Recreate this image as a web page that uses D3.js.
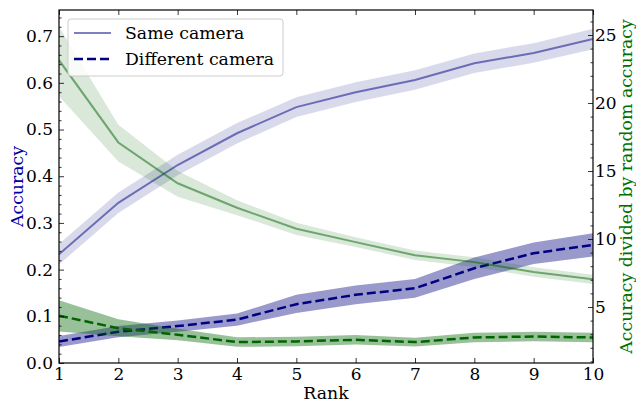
<!DOCTYPE html>
<html>
<head>
<meta charset="utf-8">
<script src="https://cdn.jsdelivr.net/npm/d3@7"></script>
<style>
  html, body { margin: 0; padding: 0; background: #fff; }
  svg { display: block; font-family: "DejaVu Serif", serif; }
</style>
</head>
<body>
<svg id="chart" width="636" height="401"></svg>
<script>
// Rank on the x axis
const ranks = [1, 2, 3, 4, 5, 6, 7, 8, 9, 10];

// Accuracy, same camera (mean and band)
const sameMean = [0.233, 0.343, 0.424, 0.492, 0.548, 0.580, 0.606, 0.642, 0.664, 0.694];
const sameLow  = [0.211, 0.321, 0.402, 0.470, 0.527, 0.559, 0.585, 0.621, 0.643, 0.672];
const sameHigh = [0.255, 0.365, 0.446, 0.514, 0.569, 0.601, 0.627, 0.663, 0.685, 0.716];

// Accuracy, different camera (mean and band)
const diffMean = [0.046, 0.067, 0.079, 0.093, 0.126, 0.146, 0.160, 0.203, 0.235, 0.253];
const diffLow  = [0.034, 0.055, 0.067, 0.080, 0.107, 0.126, 0.140, 0.180, 0.212, 0.228];
const diffHigh = [0.058, 0.079, 0.091, 0.106, 0.146, 0.166, 0.180, 0.226, 0.258, 0.278];

// Accuracy divided by random accuracy, same camera
const sameRatio     = [23.15, 17.1, 14.1, 12.3, 10.75, 9.77, 8.80, 8.30, 7.58, 7.04];
const sameRatioLow  = [20.5, 15.7, 13.1, 11.75, 10.3, 9.42, 8.45, 7.95, 7.23, 6.70];
const sameRatioHigh = [25.6, 18.4, 15.0, 12.85, 11.2, 10.12, 9.15, 8.65, 7.93, 7.38];

// Accuracy divided by random accuracy, different camera
const diffRatio     = [4.36, 3.44, 2.96, 2.42, 2.47, 2.59, 2.42, 2.76, 2.83, 2.76];
const diffRatioLow  = [3.20, 2.85, 2.55, 2.07, 2.12, 2.24, 2.10, 2.41, 2.48, 2.41];
const diffRatioHigh = [5.50, 4.10, 3.40, 2.77, 2.82, 2.94, 2.74, 3.11, 3.18, 3.11];

// Tick values
const xTicks = ranks;
const leftTicks = [0.0, 0.1, 0.2, 0.3, 0.4, 0.5, 0.6, 0.7];
const rightTicks = [5, 10, 15, 20, 25];

const legendLabels = ["Same camera", "Different camera"];

const svg = d3.select("#chart");
const plot = { left: 59, right: 593, top: 10, bottom: 363 };

const x = d3.scaleLinear().domain([1, 10]).range([plot.left, plot.right]);
const yL = d3.scaleLinear().domain([0, 0.756]).range([plot.bottom, plot.top]);
const yR = d3.scaleLinear().domain([0.882, 26.84]).range([plot.bottom, plot.top]);

const NAVY = "#000080";
const GREEN = "#006400";

function band(lo, hi, y) {
  return d3.area().x((d, i) => x(ranks[i])).y0((d, i) => y(lo[i])).y1((d, i) => y(hi[i]))(ranks);
}
function line(vals, y) {
  return d3.line().x((d, i) => x(ranks[i])).y((d, i) => y(vals[i]))(ranks);
}

const g = svg.append("g");
g.append("defs").append("clipPath").attr("id", "clip")
  .append("rect").attr("x", plot.left).attr("y", plot.top)
  .attr("width", plot.right - plot.left).attr("height", plot.bottom - plot.top);
const marks = g.append("g").attr("clip-path", "url(#clip)");

// Accuracy series (left axis)
marks.append("path").attr("d", band(sameLow, sameHigh, yL)).attr("fill", NAVY).attr("fill-opacity", 0.15);
marks.append("path").attr("d", line(sameMean, yL)).attr("fill", "none")
  .attr("stroke", NAVY).attr("stroke-opacity", 0.5).attr("stroke-width", 2);
marks.append("path").attr("d", band(diffLow, diffHigh, yL)).attr("fill", NAVY).attr("fill-opacity", 0.4);
marks.append("path").attr("d", line(diffMean, yL)).attr("fill", "none")
  .attr("stroke", NAVY).attr("stroke-width", 2.5).attr("stroke-dasharray", "9,4");

// Ratio series (right axis)
marks.append("path").attr("d", band(sameRatioLow, sameRatioHigh, yR)).attr("fill", GREEN).attr("fill-opacity", 0.15);
marks.append("path").attr("d", line(sameRatio, yR)).attr("fill", "none")
  .attr("stroke", GREEN).attr("stroke-opacity", 0.5).attr("stroke-width", 2);
marks.append("path").attr("d", band(diffRatioLow, diffRatioHigh, yR)).attr("fill", GREEN).attr("fill-opacity", 0.4);
marks.append("path").attr("d", line(diffRatio, yR)).attr("fill", "none")
  .attr("stroke", GREEN).attr("stroke-width", 2.5).attr("stroke-dasharray", "9,4");

// Axes with inward ticks
const tickFont = 17;
const labelFont = 17.3;
function styleAxis(sel) {
  sel.select(".domain").remove();
  sel.selectAll(".tick line").attr("stroke", "#000").attr("stroke-width", 0.8);
  sel.selectAll(".tick text").attr("font-size", tickFont).attr("fill", "#000")
    .attr("font-family", "DejaVu Serif, serif");
}

const axisBottomG = g.append("g").attr("transform", `translate(0,${plot.bottom})`)
  .call(d3.axisBottom(x).tickValues(xTicks).tickFormat(d3.format("d")).tickSizeInner(-5).tickSizeOuter(0).tickPadding(5));
styleAxis(axisBottomG);

const axisTopG = g.append("g").attr("transform", `translate(0,${plot.top})`)
  .call(d3.axisTop(x).tickValues(xTicks).tickFormat("").tickSizeInner(-5).tickSizeOuter(0));
styleAxis(axisTopG);

const axisLeftG = g.append("g").attr("transform", `translate(${plot.left},0)`)
  .call(d3.axisLeft(yL).tickValues(leftTicks).tickFormat(d3.format(".1f")).tickSizeInner(-5).tickSizeOuter(0).tickPadding(6));
styleAxis(axisLeftG);
const axisLeftMinorG = g.append("g").attr("transform", `translate(${plot.left},0)`)
  .call(d3.axisLeft(yL).tickValues(d3.range(0, 0.75, 0.02).filter(v => Math.abs(v * 10 - Math.round(v * 10)) > 1e-6))
    .tickFormat("").tickSizeInner(-2.5).tickSizeOuter(0));
styleAxis(axisLeftMinorG);

const axisRightG = g.append("g").attr("transform", `translate(${plot.right},0)`)
  .call(d3.axisRight(yR).tickValues(rightTicks).tickFormat(d3.format("d")).tickSizeInner(-5).tickSizeOuter(0).tickPadding(2));
styleAxis(axisRightG);
const axisRightMinorG = g.append("g").attr("transform", `translate(${plot.right},0)`)
  .call(d3.axisRight(yR).tickValues(d3.range(1, 27).filter(v => v % 5 !== 0))
    .tickFormat("").tickSizeInner(-2.5).tickSizeOuter(0));
styleAxis(axisRightMinorG);

// Frame
g.append("rect").attr("x", plot.left).attr("y", plot.top)
  .attr("width", plot.right - plot.left).attr("height", plot.bottom - plot.top)
  .attr("fill", "none").attr("stroke", "#000").attr("stroke-width", 1.2);

// Axis titles
g.append("text").attr("x", (plot.left + plot.right) / 2).attr("y", 398.5)
  .attr("text-anchor", "middle").attr("font-size", labelFont).text("Rank");
g.append("text").attr("transform", `translate(22.5,${(plot.top + plot.bottom) / 2}) rotate(-90)`)
  .attr("text-anchor", "middle").attr("font-size", labelFont).attr("fill", "#0000a8").text("Accuracy");
g.append("text").attr("transform", `translate(632,${(plot.top + plot.bottom) / 2}) rotate(-90)`)
  .attr("text-anchor", "middle").attr("font-size", labelFont).attr("fill", "#007000")
  .text("Accuracy divided by random accuracy");

// Legend
const lg = g.append("g").attr("transform", "translate(68,19)");
lg.append("rect").attr("width", 215).attr("height", 57).attr("rx", 3)
  .attr("fill", "#fff").attr("fill-opacity", 0.8).attr("stroke", "#cccccc").attr("stroke-width", 1);
const legendStyles = [
  { color: NAVY, opacity: 0.5, width: 2, dash: null },
  { color: NAVY, opacity: 1, width: 2.5, dash: "9,4" }
];
legendLabels.forEach((lab, i) => {
  const yy = 14 + i * 26;
  const s = legendStyles[i];
  lg.append("line").attr("x1", 6).attr("x2", 43).attr("y1", yy).attr("y2", yy)
    .attr("stroke", s.color).attr("stroke-opacity", s.opacity).attr("stroke-width", s.width)
    .attr("stroke-dasharray", s.dash);
  lg.append("text").attr("x", 57).attr("y", yy + 6).attr("font-size", labelFont).text(lab);
});
</script>
</body>
</html>
